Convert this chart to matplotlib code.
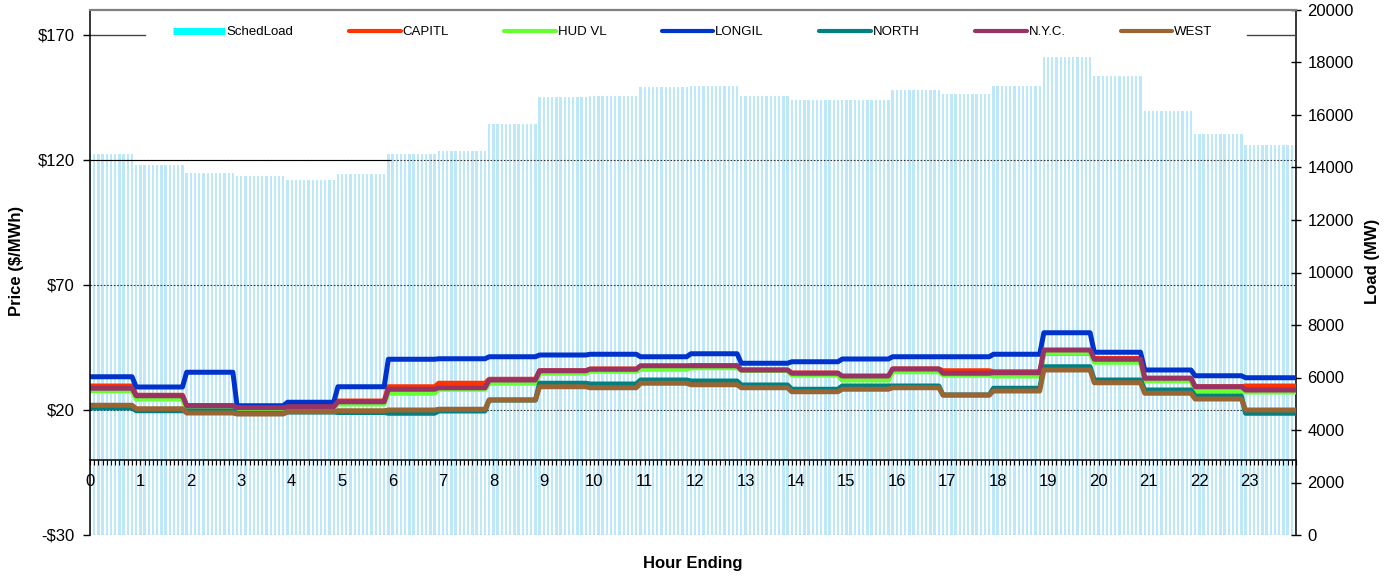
import numpy as np
import matplotlib
matplotlib.use("Agg")
import matplotlib.pyplot as plt
from matplotlib.lines import Line2D

plt.rcParams['font.family'] = ['Liberation Sans', 'DejaVu Sans']

# hourly values (hour ending 0..23), shown at 5-minute resolution
hours = list(range(24))
sched_load = [14510, 14110, 13790, 13690, 13520, 13750, 14510, 14620, 15660, 16670, 16710, 17050,
              17120, 16720, 16580, 16560, 16950, 16800, 17100, 18200, 17470, 16150, 15280, 14860]
capitl = [29.6, 25.9, 21.8, 21.0, 21.4, 23.6, 29.3, 30.7, 32.3, 35.7, 36.4, 37.0,
          37.7, 36.0, 34.8, 32.2, 36.4, 35.7, 35.3, 42.7, 40.6, 32.7, 29.3, 29.6]
hud_vl = [27.7, 24.4, 20.3, 20.6, 21.0, 22.4, 26.7, 28.3, 30.7, 34.7, 35.5, 36.3,
          36.9, 35.8, 34.0, 32.0, 35.3, 34.0, 33.6, 42.7, 39.1, 31.7, 27.7, 27.2]
longil = [33.3, 29.2, 35.1, 21.7, 23.1, 29.3, 40.3, 40.5, 41.3, 42.0, 42.3, 41.3,
          42.5, 38.7, 39.3, 40.4, 41.3, 41.3, 42.3, 50.9, 43.1, 36.0, 33.7, 32.9]
north = [20.8, 19.7, 19.6, 18.6, 19.2, 19.0, 18.7, 19.6, 24.0, 30.7, 30.4, 32.0,
         31.6, 30.0, 28.3, 29.6, 29.6, 26.0, 28.7, 37.3, 32.0, 28.0, 25.6, 18.7]
nyc = [28.7, 25.7, 21.7, 20.9, 21.3, 23.3, 28.3, 28.9, 32.0, 35.7, 36.3, 37.7,
       37.7, 36.0, 34.7, 33.6, 36.4, 34.7, 34.9, 44.0, 40.3, 32.7, 29.3, 28.0]
west = [21.9, 20.5, 18.8, 18.4, 19.3, 19.7, 20.0, 20.3, 24.0, 29.3, 28.9, 30.7,
        30.1, 28.9, 27.3, 28.3, 28.9, 26.0, 27.6, 36.0, 30.9, 26.7, 24.4, 20.0]

zones = ["CAPITL", "HUD VL", "LONGIL", "NORTH", "N.Y.C.", "WEST"]
zone_vals = [capitl, hud_vl, longil, north, nyc, west]
zone_colors = ["#ff3300", "#66ff33", "#0033cc", "#008080", "#993366", "#996633"]

# 288 five-minute intervals, each belongs to the hour it ends in
idx = np.arange(288)
x5 = idx / 12.0
hr_of = np.minimum((idx + 1) // 12, 23)


def expand(vals):
    return np.asarray(vals, dtype=float)[hr_of]


fig = plt.figure(figsize=(13.87, 5.77), dpi=100)
ax1 = fig.add_axes([90 / 1387, 1 - 535 / 577, 1206 / 1387, 525 / 577])
ax2 = ax1.twinx()
ax1.set_zorder(ax2.get_zorder() + 1)
ax1.patch.set_visible(False)

# load bars
ax2.bar(x5, expand(sched_load), width=0.55 / 12, color="#bde8f9", linewidth=0, align="center")
ax2.set_ylim(0, 20000)
ax2.set_yticks(range(0, 20001, 2000))
ax2.tick_params(axis="y", direction="inout", length=6.5, width=1, labelsize=12, pad=5)
ax2.set_ylabel("Load (MW)", fontsize=12, fontweight="bold")
ax2.yaxis.set_label_coords(1.057, 0.522)
for s in ["top", "bottom", "left"]:
    ax2.spines[s].set_visible(False)
ax2.spines["right"].set_linewidth(1.1)

# price lines
for name, vals, col in zip(zones, zone_vals, zone_colors):
    ax1.plot(x5, expand(vals), color=col, lw=3.6, solid_joinstyle="round", label=name)

ax1.set_xlim(0, 287 / 12)
ax1.set_ylim(-30, 180)
ax1.set_yticks([-30, 20, 70, 120, 170])
ax1.set_yticklabels(["-$30", "$20", "$70", "$120", "$170"])
ax1.set_xticks(hours)
ax1.set_xticks(x5, minor=True)
ax1.tick_params(axis="y", direction="out", length=5, width=1, labelsize=12, pad=6)
ax1.tick_params(axis="x", which="both", direction="out", length=3.3, width=0.8, labelsize=12, pad=7)

ax1.spines["bottom"].set_position(("data", 0))
ax1.spines["bottom"].set_linewidth(1.1)
ax1.spines["left"].set_linewidth(1.1)
ax1.spines["right"].set_visible(False)
ax1.spines["top"].set_color("#808080")
ax1.spines["top"].set_linewidth(1.6)

# gridlines
for yv in [20, 70, 120]:
    ax1.axhline(yv, color="#333333", lw=0.8, ls=(0, (1.5, 1.5)), zorder=1)
ax1.axhline(-30, color="#888888", lw=0.9, ls=(0, (1.5, 1.5)), zorder=1)
ax1.axhline(120, xmax=300 / 1206, color="black", lw=0.8, zorder=1)
ax1.axhline(170, xmax=55 / 1206, color="#444444", lw=1.0, zorder=1)
ax1.axhline(170, xmin=1157 / 1206, color="#444444", lw=1.0, zorder=1)

ax1.set_xlabel("Hour Ending", fontsize=12, fontweight="bold")
ax1.xaxis.set_label_coords(0.5, -0.040)
ax1.set_ylabel("Price ($/MWh)", fontsize=12, fontweight="bold")
ax1.yaxis.set_label_coords(-0.0545, 0.522)

handles = [Line2D([], [], color="#00ffff", lw=5, solid_capstyle="butt")]
handles += [Line2D([], [], color=c, lw=3, solid_capstyle="round") for c in zone_colors]
labels = ["SchedLoad"] + zones
leg = ax1.legend(handles, labels, loc="center", bbox_to_anchor=(0.500, 0.958), ncol=7,
                 fontsize=9.5, handlelength=3.9, handletextpad=0.15, columnspacing=4.2,
                 frameon=True, fancybox=False, borderpad=0.4)
leg.get_frame().set_facecolor("white")
leg.get_frame().set_edgecolor("none")
leg.get_frame().set_alpha(1)

fig.savefig("out.png", dpi=100)
